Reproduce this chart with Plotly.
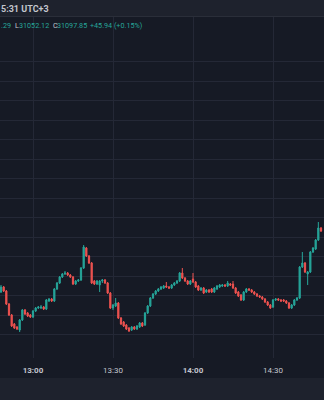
import pandas as pd
import plotly.graph_objects as go

# 1-minute candles, 12:48 .. 14:48
times = pd.date_range("2023-07-10 12:48", periods=121, freq="1min")

opens = [31061.79, 31064.36, 31062.31, 31055.64, 31050.00, 31045.38, 31043.85, 31042.31, 31047.44, 31052.56,
         31051.03, 31050.00, 31048.97, 31052.05, 31053.59, 31053.59, 31054.10, 31053.08, 31057.18, 31058.21,
         31057.18, 31063.33, 31066.41, 31069.49, 31071.03, 31071.54, 31070.51, 31069.49, 31065.90, 31067.44,
         31067.95, 31074.10, 31084.36, 31080.26, 31076.67, 31067.44, 31065.90, 31065.38, 31067.44, 31067.95,
         31066.41, 31061.28, 31053.59, 31054.62, 31056.15, 31048.46, 31046.41, 31044.87, 31043.33, 31042.31,
         31043.85, 31042.82, 31043.85, 31045.90, 31044.87, 31051.03, 31054.62, 31058.72, 31060.77, 31062.31,
         31063.33, 31063.85, 31064.87, 31064.36, 31063.85, 31065.38, 31066.41, 31067.44, 31071.54, 31068.97,
         31067.44, 31065.90, 31068.46, 31066.92, 31064.87, 31062.82, 31063.85, 31061.79, 31062.82, 31063.33,
         31061.79, 31063.33, 31064.36, 31064.87, 31065.38, 31064.87, 31065.90, 31065.90, 31063.85, 31061.79,
         31060.26, 31057.69, 31061.79, 31063.33, 31062.82, 31061.79, 31060.77, 31059.74, 31059.23, 31058.21,
         31056.67, 31055.13, 31054.10, 31057.69, 31058.21, 31057.69, 31057.69, 31057.18, 31056.15, 31053.59,
         31055.13, 31057.69, 31058.72, 31074.62, 31076.67, 31071.03, 31072.05, 31082.31, 31083.85, 31088.46,
         31094.62]

highs = [31065.38, 31064.87, 31062.82, 31056.15, 31050.51, 31045.90, 31044.36, 31047.95, 31053.08, 31053.08,
         31051.54, 31050.51, 31052.56, 31054.10, 31054.62, 31055.13, 31054.62, 31058.21, 31058.72, 31058.72,
         31063.85, 31066.92, 31070.00, 31071.54, 31072.56, 31072.05, 31071.03, 31070.00, 31067.95, 31068.46,
         31074.62, 31085.90, 31084.87, 31080.77, 31077.18, 31067.95, 31067.95, 31067.95, 31068.46, 31068.46,
         31066.92, 31061.79, 31055.64, 31058.72, 31056.67, 31048.97, 31046.92, 31045.38, 31043.85, 31044.36,
         31044.36, 31044.87, 31046.41, 31046.41, 31051.54, 31055.13, 31059.23, 31061.28, 31062.82, 31063.85,
         31064.87, 31065.38, 31066.92, 31064.87, 31065.90, 31066.92, 31067.95, 31072.05, 31074.10, 31069.49,
         31067.95, 31067.95, 31071.54, 31067.44, 31065.38, 31064.36, 31064.36, 31063.33, 31063.33, 31063.85,
         31064.36, 31065.38, 31065.90, 31065.90, 31065.90, 31067.44, 31066.41, 31067.44, 31064.36, 31062.31,
         31060.77, 31062.31, 31063.85, 31063.85, 31063.33, 31062.31, 31061.28, 31060.26, 31059.74, 31058.72,
         31057.18, 31055.64, 31058.21, 31058.72, 31058.72, 31058.21, 31058.21, 31057.69, 31056.67, 31055.64,
         31058.21, 31059.23, 31075.13, 31082.31, 31077.18, 31072.56, 31082.82, 31084.87, 31088.97, 31097.69,
         31095.13]

lows = [31061.28, 31061.79, 31055.13, 31049.49, 31043.85, 31042.82, 31042.31, 31041.28, 31046.92, 31050.00,
        31048.97, 31048.46, 31048.46, 31051.54, 31053.08, 31053.08, 31052.56, 31052.56, 31056.67, 31056.67,
        31056.67, 31062.82, 31065.90, 31068.97, 31070.51, 31070.00, 31068.97, 31065.38, 31065.38, 31066.92,
        31067.44, 31073.59, 31079.74, 31076.15, 31065.90, 31065.38, 31065.38, 31061.79, 31066.41, 31065.90,
        31060.77, 31053.08, 31052.56, 31054.10, 31047.95, 31044.87, 31043.85, 31042.31, 31041.28, 31041.79,
        31042.31, 31042.31, 31043.33, 31043.85, 31044.36, 31050.51, 31054.10, 31058.21, 31060.26, 31061.79,
        31062.82, 31063.33, 31063.85, 31063.33, 31063.33, 31064.87, 31065.90, 31066.92, 31068.46, 31066.92,
        31065.38, 31065.38, 31066.41, 31063.85, 31062.31, 31062.31, 31060.77, 31061.28, 31061.28, 31061.28,
        31061.28, 31062.82, 31063.85, 31064.36, 31064.36, 31064.36, 31064.87, 31063.33, 31060.77, 31059.23,
        31057.18, 31057.18, 31061.28, 31062.31, 31061.28, 31060.26, 31059.23, 31058.72, 31057.69, 31056.15,
        31054.62, 31053.08, 31053.59, 31057.18, 31057.18, 31056.67, 31056.67, 31055.64, 31053.08, 31053.08,
        31054.62, 31057.18, 31058.21, 31074.10, 31071.54, 31065.38, 31071.54, 31081.79, 31083.33, 31087.95,
        31092.56]

closes = [31064.36, 31062.31, 31055.64, 31050.00, 31044.36, 31043.33, 31042.82, 31047.44, 31052.56, 31050.51,
          31049.49, 31048.97, 31052.05, 31053.59, 31054.10, 31054.10, 31053.08, 31057.69, 31058.21, 31057.18,
          31063.33, 31066.41, 31069.49, 31071.03, 31071.54, 31070.51, 31069.49, 31065.90, 31067.44, 31067.95,
          31074.10, 31084.87, 31080.26, 31076.67, 31066.41, 31065.90, 31067.44, 31067.44, 31067.95, 31066.41,
          31061.28, 31053.59, 31055.13, 31056.15, 31048.46, 31045.38, 31044.36, 31042.82, 31041.79, 31043.85,
          31042.82, 31044.36, 31045.90, 31044.36, 31051.03, 31054.62, 31058.72, 31060.77, 31062.31, 31063.33,
          31064.36, 31064.87, 31064.36, 31063.85, 31065.38, 31066.41, 31067.44, 31071.54, 31068.97, 31067.44,
          31065.90, 31067.44, 31066.92, 31064.36, 31062.82, 31063.85, 31061.28, 31062.82, 31061.79, 31061.79,
          31063.85, 31064.87, 31065.38, 31065.38, 31064.87, 31066.41, 31065.38, 31063.85, 31061.28, 31059.74,
          31057.69, 31061.79, 31063.33, 31062.82, 31061.79, 31060.77, 31059.74, 31059.23, 31058.21, 31056.67,
          31055.13, 31053.59, 31057.69, 31058.21, 31057.69, 31057.18, 31057.18, 31056.15, 31053.59, 31055.13,
          31057.69, 31058.72, 31074.62, 31076.67, 31072.05, 31072.05, 31082.31, 31084.36, 31088.46, 31094.62,
          31093.08]

time_ticks = ["2023-07-10 13:00", "2023-07-10 13:30", "2023-07-10 14:00", "2023-07-10 14:30"]
time_labels = ["<b>13:00</b>", "13:30", "<b>14:00</b>", "14:30"]
price_grid = [31040, 31050, 31060, 31070, 31080, 31090, 31100, 31110, 31120, 31130, 31140, 31150, 31160, 31170, 31180]

# legend pieces (text, colour key, left pixel)
legend_texts = [".29", "L", "31052.12", "C", "31097.85", "+45.94 (+0.15%)"]
legend_kinds = ["val", "lab", "val", "lab", "val", "val"]
legend_left_px = [0, 14, 17.5, 51.5, 56, 89]

UP = "#26a69a"
DOWN = "#ef5350"
BG = "#161a25"
PANEL = "#1e222d"
GRID = "#242836"
W, H = 324, 400

fig = go.Figure(go.Candlestick(
    x=times, open=opens, high=highs, low=lows, close=closes,
    increasing=dict(line=dict(color=UP, width=1), fillcolor=UP),
    decreasing=dict(line=dict(color=DOWN, width=1), fillcolor=DOWN),
    hoverinfo="skip", showlegend=False,
))

def py(px):  # pixel row -> paper fraction
    return (H - px) / H

annotations = [
    dict(xref="paper", yref="paper", x=0, y=py(9), xanchor="left", yanchor="middle",
         text="<b>5:31 UTC+3</b>", showarrow=False, borderpad=0,
         font=dict(size=9, color="#c3c6ce", family="Roboto")),
]
for txt, kind, left in zip(legend_texts, legend_kinds, legend_left_px):
    annotations.append(dict(
        xref="paper", yref="paper", x=left / W, y=py(26), xanchor="left", yanchor="middle",
        text=txt, showarrow=False, borderpad=0,
        font=dict(size=7.2, color=UP if kind == "val" else "#c3c6ce", family="Roboto"),
    ))

fig.update_layout(
    width=W, height=H, margin=dict(l=0, r=0, t=0, b=0),
    paper_bgcolor=BG, plot_bgcolor=BG, boxgap=0.35,
    font=dict(family="Roboto", color="#b2b5be"),
    xaxis=dict(
        domain=[0, 1], type="date",
        range=["2023-07-10 12:47:37.5", "2023-07-10 14:49:07.5"],
        tickvals=time_ticks, ticktext=time_labels,
        showgrid=True, gridcolor=GRID, gridwidth=1,
        zeroline=False, showline=False, ticks="",
        tickfont=dict(size=8, color="#c3c6ce"), ticklabelstandoff=6,
        rangeslider=dict(visible=False), fixedrange=True,
    ),
    yaxis=dict(
        domain=[py(358), py(17)],
        range=[31027.95, 31202.82],
        tickvals=price_grid, showticklabels=False,
        showgrid=True, gridcolor=GRID, gridwidth=1,
        zeroline=False, showline=False, fixedrange=True,
    ),
    shapes=[
        dict(type="rect", xref="paper", yref="paper", x0=0, x1=1, y0=py(16), y1=1,
             fillcolor=PANEL, line=dict(width=0), layer="above"),
        dict(type="line", xref="paper", yref="paper", x0=0, x1=1, y0=py(16.5), y1=py(16.5),
             line=dict(color="#2a2e39", width=1), layer="above"),
        dict(type="rect", xref="paper", yref="paper", x0=0, x1=1, y0=0, y1=py(378),
             fillcolor=PANEL, line=dict(width=0), layer="above"),
    ],
    annotations=annotations,
)

fig.write_html("out.html", config={"displayModeBar": False, "staticPlot": True})
